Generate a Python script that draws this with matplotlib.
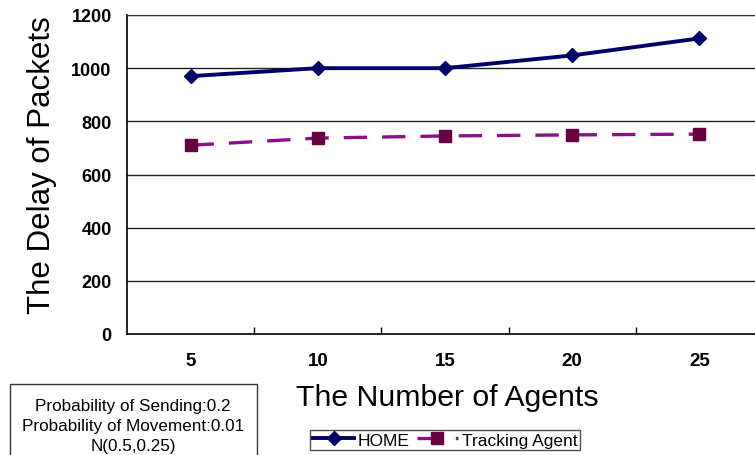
import matplotlib
matplotlib.use("Agg")
import matplotlib.pyplot as plt
from matplotlib.patches import Rectangle

plt.rcParams['font.family'] = ['Liberation Sans', 'DejaVu Sans']

# --- data ---
agents = ['5', '10', '15', '20', '25']
home_delay = [970, 1000, 1000, 1048, 1112]
tracking_delay = [710, 737, 745, 749, 752]
y_ticks = [0, 200, 400, 600, 800, 1000, 1200]
note_lines = ['Probability of Sending:0.2', 'Probability of Movement:0.01', 'N(0.5,0.25)']

W, H = 755, 456
fig = plt.figure(figsize=(W / 100, H / 100), dpi=100)
fig.patch.set_facecolor('white')

# plot area runs past the right edge of the figure
ax = fig.add_axes([127 / W, 1 - 335 / H, 636 / W, 319 / H])
x = list(range(len(agents)))

ax.plot(x, home_delay, color='#000066', lw=2.8, marker='D', ms=7,
        mfc='#000066', mec='#000066', label='HOME', zorder=4)
ax.plot(x, tracking_delay, color='#8b0f8b', lw=2.4, dashes=(7, 4.5),
        marker='s', ms=9, mfc='#66003f', mec='#66003f',
        label='Tracking Agent', zorder=4)

ax.set_xlim(-0.5, len(agents) - 0.5)
ax.set_ylim(0, 1200)
ax.set_yticks(y_ticks)
ax.set_yticklabels([str(v) for v in y_ticks], fontsize=13, fontweight='bold')
ax.set_xticks(x)
ax.set_xticklabels(agents, fontsize=13.5, fontweight='bold')
ax.set_xticks([i + 0.5 for i in x[:-1]], minor=True)
ax.tick_params(axis='x', which='major', length=0, pad=13)
ax.tick_params(axis='x', which='minor', direction='in', length=5, width=1)
ax.tick_params(axis='y', length=0, pad=11)

ax.grid(axis='y', color='#222222', lw=1.0)
ax.set_axisbelow(True)
ax.spines['right'].set_visible(False)
ax.spines['top'].set_color('#333333')
ax.spines['left'].set_linewidth(1.2)
ax.spines['bottom'].set_linewidth(1.2)

fig.text(42 / W, 1 - 165 / H, 'The Delay of Packets', fontsize=22.5,
         rotation=90, ha='center', va='center')
fig.text(447 / W, 1 - 398 / H, 'The Number of Agents', fontsize=21.8,
         ha='center', va='center')

# parameter box in the lower left corner
fig.add_artist(Rectangle((10 / W, -0.05), 247 / W, 0.05 + 1 - 385 / H,
                         transform=fig.transFigure, fill=False,
                         edgecolor='#333333', lw=1.0))
for i, line in enumerate(note_lines):
    fig.text(133 / W, 1 - (407 + 20 * i) / H, line, fontsize=12.3,
             ha='center', va='center')

fig.legend(loc='center', bbox_to_anchor=(445 / W, 1 - 441 / H), ncol=2,
           fontsize=12.5, frameon=True, fancybox=False, edgecolor='#222222',
           handlelength=2.4, handletextpad=0.2, columnspacing=0.4,
           borderpad=0.15, borderaxespad=0)

fig.savefig('out.png', dpi=100)
